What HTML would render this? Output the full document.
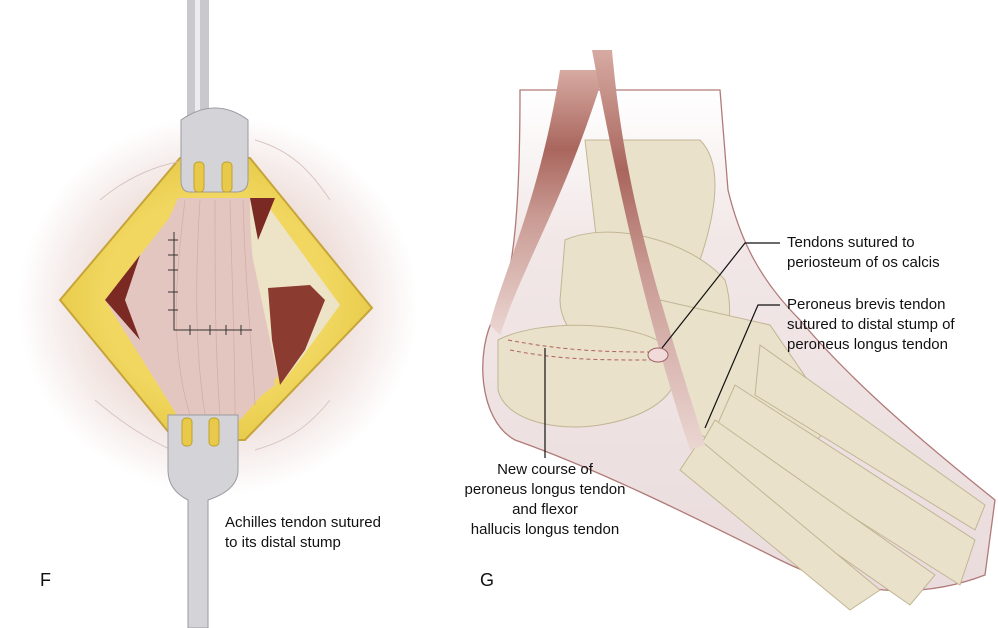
<!DOCTYPE html>
<html><head><meta charset="utf-8"><style>
html,body{margin:0;padding:0;background:#fff}
body{width:998px;height:628px;position:relative;overflow:hidden;font-family:"Liberation Sans",sans-serif}
.t{position:absolute;font-size:15px;line-height:20px;color:#111}
</style></head><body>
<svg width="998" height="628" style="position:absolute;left:0;top:0">
<defs>
<linearGradient id="leg" x1="0" y1="0" x2="0" y2="1"><stop offset="0" stop-color="#fff"/><stop offset="0.3" stop-color="#f2e7e7"/><stop offset="1" stop-color="#eadcdc"/></linearGradient>
<linearGradient id="mus" x1="0" y1="0" x2="0" y2="1"><stop offset="0" stop-color="#d6aaa2"/><stop offset="0.3" stop-color="#a9665d"/><stop offset="0.55" stop-color="#c99a93"/><stop offset="1" stop-color="#ebd6d2"/></linearGradient>
<radialGradient id="skin" cx="0.5" cy="0.5" r="0.5"><stop offset="0.55" stop-color="#ecdad5"/><stop offset="0.8" stop-color="#f6eeec"/><stop offset="1" stop-color="#fff"/></radialGradient>
<radialGradient id="fat" cx="0.5" cy="0.5" r="0.6"><stop offset="0.6" stop-color="#f1d760"/><stop offset="1" stop-color="#e2c43e"/></radialGradient>
</defs>
<ellipse cx="218" cy="305" rx="200" ry="190" fill="url(#skin)"/>
<path d="M60,300 L180,158 L250,158 L372,308 L245,440 L175,440 Z" fill="url(#fat)" stroke="#c6a43a" stroke-width="2"/>
<path d="M105,300 L185,198 L245,198 L340,305 L240,420 L180,420 Z" fill="#e4c6c0"/>
<path d="M105,300 L140,255 L125,300 L140,340 Z" fill="#7a2a22"/>
<path d="M240,198 L262,198 L340,305 L300,360 L280,385 L270,340 Z" fill="#ede3c6"/>
<path d="M250,198 L275,198 L258,240 Z" fill="#7a2a22"/>
<path d="M268,288 L310,285 L325,300 L305,350 L280,385 L272,340 Z" fill="#8c3b30"/>
<path d="M178,198 L250,198 C250,250 255,300 275,385 L232,418 L180,415 C160,380 145,340 140,300 C145,260 165,230 178,198 Z" fill="#e4c6c0"/>
<g stroke="#d1a9a2" stroke-width="0.8" fill="none" opacity="0.8">
<path d="M185,200 C175,280 170,350 190,415"/><path d="M200,200 C195,280 195,350 205,415"/><path d="M215,200 C215,280 215,350 220,415"/><path d="M230,200 C232,280 235,350 235,415"/><path d="M243,200 C245,280 252,350 255,405"/>
</g>
<g stroke="#333" stroke-width="1" fill="none"><path d="M174,232 L174,330 L252,330"/><path d="M168,240h10M168,255h10M168,270h10M168,292h10M168,310h10M190,325v10M210,325v10M226,325v10M241,325v10"/></g>
<path d="M100,200 C130,175 160,165 178,162 M95,400 C130,430 160,445 172,450 M255,140 C290,150 310,170 330,200 M255,450 C290,440 310,425 330,400" stroke="#d9c4c0" fill="none"/>
<rect x="187" y="0" width="22" height="130" fill="#c9c9cd"/>
<rect x="195" y="0" width="5" height="130" fill="#ececf0"/>
<path d="M181,120 Q198,108 215,108 Q232,108 248,120 V180 Q248,192 236,192 H190 Q181,192 181,180 Z" fill="#d4d4d8" stroke="#9a9aa0" stroke-width="1"/>
<rect x="194" y="162" width="10" height="30" rx="4" fill="#e8c94a" stroke="#bfa030"/>
<rect x="222" y="162" width="10" height="30" rx="4" fill="#e8c94a" stroke="#bfa030"/>
<path d="M168,415 H238 V470 Q238,490 208,500 V628 H188 V500 Q168,490 168,470 Z" fill="#d4d4d8" stroke="#9a9aa0" stroke-width="1"/>
<rect x="182" y="418" width="10" height="28" rx="4" fill="#e8c94a" stroke="#bfa030"/>
<rect x="209" y="418" width="10" height="28" rx="4" fill="#e8c94a" stroke="#bfa030"/>
<!-- RIGHT PANEL -->
<path d="M520,90 C520,200 515,280 495,315 C475,350 478,420 515,440 C600,470 700,520 780,560 C850,595 920,600 985,575 L995,500 C920,440 850,380 800,320 C760,280 740,240 728,190 L720,90 Z" fill="url(#leg)" stroke="#b07a78" stroke-width="1.3"/>
<g fill="#e9e1c9" stroke="#c2b594" stroke-width="1">
<path d="M585,140 L700,140 C720,160 720,200 700,260 L650,300 L600,270 Z"/>
<path d="M565,240 C610,220 690,240 725,280 C740,330 715,370 690,385 L640,375 C600,365 560,335 560,300 Z"/>
<path d="M498,340 C540,318 640,320 672,350 C690,385 660,415 600,425 C555,432 505,420 498,390 Z"/>
<path d="M660,300 L770,325 L835,420 L790,470 L700,435 Z"/>
<path d="M760,345 L985,505 L975,530 L755,395 Z"/>
<path d="M735,385 L975,540 L960,585 L715,430 Z"/>
<path d="M715,420 L935,575 L910,605 L695,455 Z"/>
<path d="M700,440 L880,590 L850,610 L680,470 Z"/>
</g>
<path d="M560,70 C540,200 500,280 490,325 L500,335 C525,260 565,200 605,70 Z" fill="url(#mus)"/>
<path d="M612,50 C625,200 660,300 705,445 L690,450 C650,330 620,200 592,50 Z" fill="url(#mus)"/>
<path d="M508,340 C560,350 600,352 650,352 M510,350 C560,360 600,360 650,360" stroke="#b06060" stroke-dasharray="4,3" fill="none"/>
<ellipse cx="658" cy="355" rx="10" ry="7" fill="#f0dada" stroke="#a06060"/>
<g stroke="#111" stroke-width="1.2" fill="none">
<path d="M780,243 L745,243 L662,348"/>
<path d="M780,305 L758,305 L705,428"/>
<path d="M545,348 L545,458"/>
</g>
</svg>
<div class="t" style="left:225px;top:513px">Achilles tendon sutured<br>to its distal stump</div>
<div class="t" style="left:40px;top:570px;font-size:18px">F</div>
<div class="t" style="left:787px;top:233px">Tendons sutured to<br>periosteum of os calcis</div>
<div class="t" style="left:787px;top:295px">Peroneus brevis tendon<br>sutured to distal stump of<br>peroneus longus tendon</div>
<div class="t" style="left:450px;top:460px;width:190px;text-align:center">New course of<br>peroneus longus tendon<br>and flexor<br>hallucis longus tendon</div>
<div class="t" style="left:480px;top:570px;font-size:18px">G</div>
</body></html>
